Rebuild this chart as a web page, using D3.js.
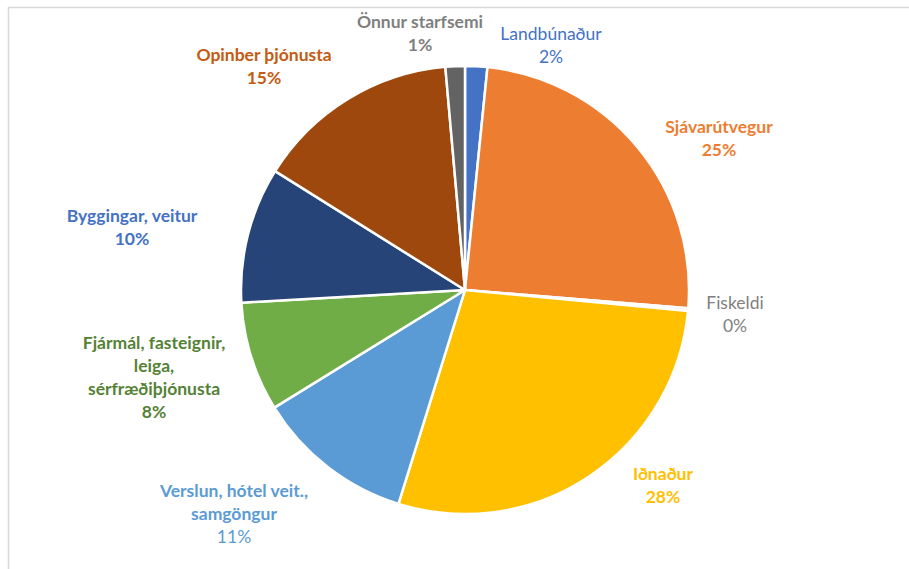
<!DOCTYPE html>
<html>
<head>
<meta charset="utf-8">
<script src="https://cdn.jsdelivr.net/npm/d3@7"></script>
<style>
  body { margin: 0; background: #fff; }
  text { font-family: Lato, "Open Sans", sans-serif; font-size: 17.5px; }
</style>
</head>
<body>
<script>
// categories, clockwise from 12 o'clock
var categories = ['Landbúnaður', 'Sjávarútvegur', 'Fiskeldi', 'Iðnaður',
  'Verslun, hótel veit., samgöngur', 'Fjármál, fasteignir, leiga, sérfræðiþjónusta',
  'Byggingar, veitur', 'Opinber þjónusta', 'Önnur starfsemi'];
var shares = [1.6, 24.7, 0.2, 28.3, 11.4, 7.9, 9.8, 14.7, 1.4];
// label lines as they wrap in the chart
var labelLines = [
  ['Landbúnaður'], ['Sjávarútvegur'], ['Fiskeldi'], ['Iðnaður'],
  ['Verslun, hótel veit.,', 'samgöngur'],
  ['Fjármál, fasteignir,', 'leiga,', 'sérfræðiþjónusta'],
  ['Byggingar, veitur'], ['Opinber þjónusta'], ['Önnur starfsemi']
];

var fills = ['#4472C4', '#ED7D31', '#A5A5A5', '#FFC000', '#5B9BD5', '#70AD47', '#264478', '#9E480E', '#636363'];
var labelColors = ['#4472C4', '#ED7D31', '#7F7F7F', '#FFC000', '#5B9BD5', '#548235', '#4472C4', '#C55A11', '#7F7F7F'];
var nameBold = [false, true, false, true, true, true, true, true, true];
var pctBold = [false, true, false, true, false, true, true, true, true];
// where each label block sits (top line centre), relative to pie centre
var labelAt = [[86, -256], [254, -163], [270, 13], [198, 184], [-231, 201], [-311, 53], [-333, -74], [-201, -235], [-45, -268]];

var w = 909, h = 569;
var cx = 465, cy = 290, r = 224;
var lineH = 23;

var data = categories.map(function(c, i) {
  return {key: c, value: shares[i], i: i};
});

var svg = d3.select('body').append('svg')
  .attr('width', w)
  .attr('height', h);

// chart area frame (bottom/right run off the picture)
svg.append('path')
  .attr('d', 'M8.5,569 L8.5,7.5 L909,7.5')
  .attr('fill', 'none')
  .attr('stroke', '#D9D9D9')
  .attr('stroke-width', 1.5);

var pie = d3.pie()
  .sort(null)
  .value(function(d) { return d.value; });

var arc = d3.arc()
  .innerRadius(0)
  .outerRadius(r);

var g = svg.append('g')
  .attr('transform', 'translate(' + cx + ',' + cy + ')');

g.selectAll('path.slice')
  .data(pie(data))
  .enter()
  .append('path')
  .attr('class', 'slice')
  .attr('d', arc)
  .attr('fill', function(d) { return fills[d.data.i]; })
  .attr('stroke', '#fff')
  .attr('stroke-width', 2.5)
  .attr('stroke-linejoin', 'round');

var pct = d3.format('.0%');
var total = d3.sum(shares);

var labels = g.selectAll('text.lbl')
  .data(data)
  .enter()
  .append('text')
  .attr('class', 'lbl')
  .attr('text-anchor', 'middle')
  .attr('fill', function(d) { return labelColors[d.i]; })
  .attr('transform', function(d) {
    return 'translate(' + labelAt[d.i][0] + ',' + labelAt[d.i][1] + ')';
  });

labels.each(function(d) {
  var t = d3.select(this);
  var lines = labelLines[d.i];
  lines.forEach(function(s, k) {
    t.append('tspan')
      .attr('x', 0)
      .attr('y', k * lineH)
      .attr('dy', '0.35em')
      .attr('font-weight', nameBold[d.i] ? 'bold' : 'normal')
      .text(s);
  });
  t.append('tspan')
    .attr('x', 0)
    .attr('y', lines.length * lineH)
    .attr('dy', '0.35em')
    .attr('font-weight', pctBold[d.i] ? 'bold' : 'normal')
    .text(pct(d.value / total));
});
</script>
</body>
</html>
